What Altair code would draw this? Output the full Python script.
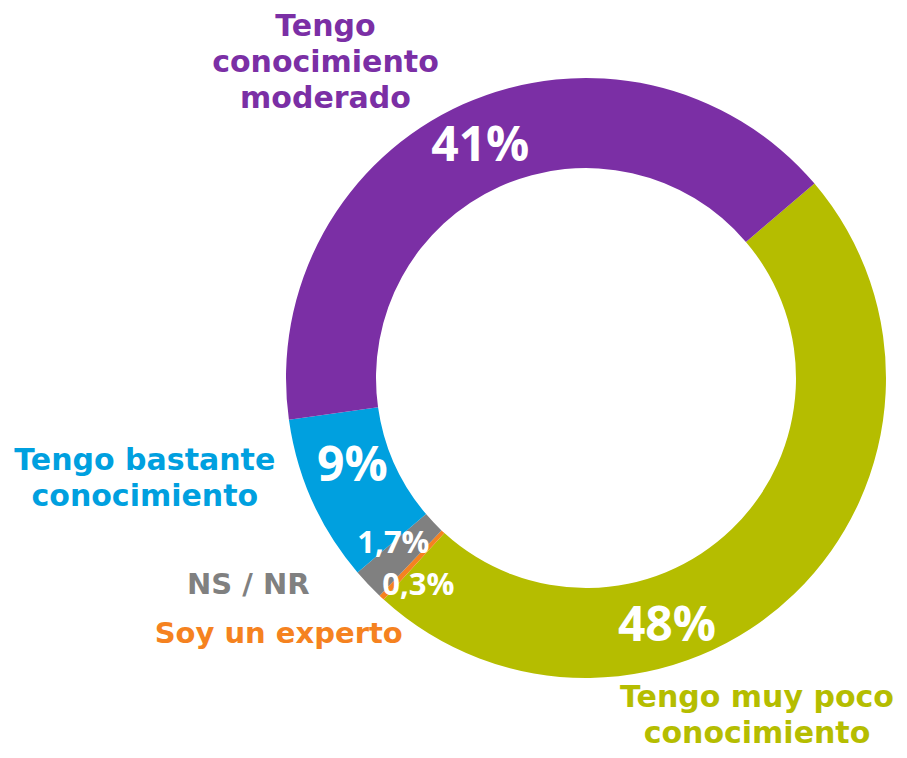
import math
import altair as alt
import pandas as pd

# ---- data ----
categories = [
    "Tengo muy poco conocimiento",
    "Soy un experto",
    "NS / NR",
    "Tengo bastante conocimiento",
    "Tengo conocimiento moderado",
]
values = [48, 0.3, 1.7, 9, 41]
pct_labels = ["48%", "0,3%", "1,7%", "9%", "41%"]
cat_labels = [
    "Tengo muy poco\nconocimiento",
    "Soy un experto",
    "NS / NR",
    "Tengo bastante\nconocimiento",
    "Tengo\nconocimiento\nmoderado",
]

# ---- style / layout ----
colors = ["#B5BD00", "#F58220", "#808080", "#00A0DF", "#7B2FA5"]
START_DEG = 49.6
CX, CY = 578, 370
OUTER, INNER = 300, 210
pct_angle = [162.0, 218.9, 229.3, 249.2, 335.4]
pct_radius = [262, 267, 254, 250, 254]
pct_size = [48, 31, 31, 48, 48]
cat_angle = [151.9, 230.2, 238.5, 259.3, 323.4]
cat_radius = [363, 400, 396, 449, 437]
cat_size = [30, 29, 29, 30, 30]

df = pd.DataFrame({
    "cat": categories,
    "value": values,
    "ord": list(range(len(categories))),
    "pct": pct_labels,
    "lab": cat_labels,
    "pa": pct_angle,
    "pr": pct_radius,
    "ps": pct_size,
    "ca": cat_angle,
    "cr": cat_radius,
    "cs": cat_size,
})

start = math.radians(START_DEG)
color_scale = alt.Scale(domain=categories, range=colors)
angle_scale = alt.Scale(domain=[0, 360], range=[0, 2 * math.pi])

base = alt.Chart(df)

arcs = base.mark_arc(outerRadius=OUTER, innerRadius=INNER, stroke=None).encode(
    theta=alt.Theta("value:Q", stack=True,
                    scale=alt.Scale(domain=[0, 100], range=[start, start + 2 * math.pi])),
    color=alt.Color("cat:N", scale=color_scale, legend=None),
    order=alt.Order("ord:Q"),
    x=alt.value(CX),
    y=alt.value(CY),
)

pct_text = base.mark_text(font="Open Sans", fontWeight="bold", color="white",
                          align="center", baseline="middle").encode(
    theta=alt.Theta("pa:Q", scale=angle_scale),
    radius=alt.Radius("pr:Q", scale=None),
    size=alt.Size("ps:Q", scale=None, legend=None),
    text="pct:N",
    x=alt.value(CX),
    y=alt.value(CY),
)

cat_text = base.mark_text(font="DejaVu Sans", fontWeight="bold", lineBreak="\n",
                          lineHeight=36, align="center", baseline="middle").encode(
    theta=alt.Theta("ca:Q", scale=angle_scale),
    radius=alt.Radius("cr:Q", scale=None),
    size=alt.Size("cs:Q", scale=None, legend=None),
    color=alt.Color("cat:N", scale=color_scale, legend=None),
    text="lab:N",
    x=alt.value(CX),
    y=alt.value(CY),
)

chart = alt.layer(arcs, pct_text, cat_text).resolve_scale(
    theta="independent"
).properties(
    width=891, height=742, padding=0, autosize=alt.AutoSizeParams(type="none")
).configure_view(stroke=None)

chart.save("out.html", embed_options={"renderer": "svg", "actions": False})
